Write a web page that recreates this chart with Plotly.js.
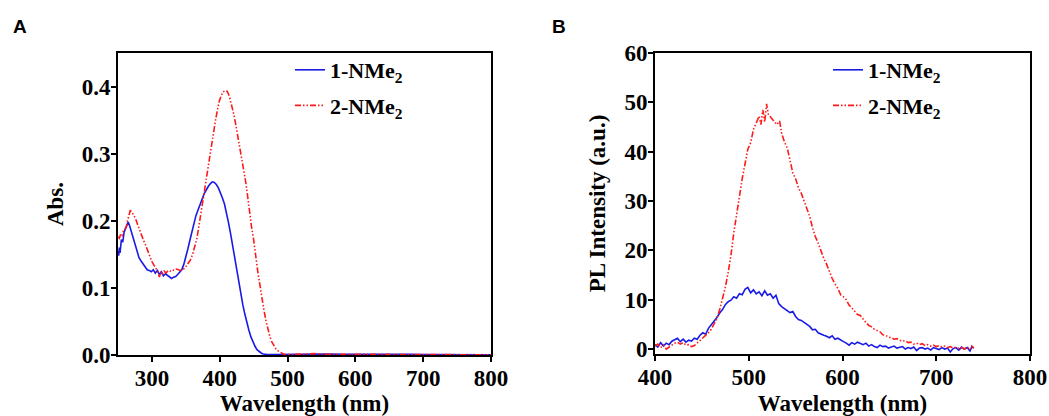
<!DOCTYPE html>
<html>
<head>
<meta charset="utf-8">
<script src="https://cdn.plot.ly/plotly-3.0.1.min.js"></script>
<style>html,body{margin:0;padding:0;background:#fff}#chart{width:1049px;height:416px}</style>
</head>
<body>
<div id="chart"></div>
<script>
// Panel A: absorption
const absX1 = [250,251,252,253,255,257,259,261,263,265,267,269,272,275,278,281,284,287,290,293,296,299,302,305,308,311,314,317,320,323,326,329,332,335,338,341,344,347,350,353,356,359,362,365,368,371,374,377,380,383,386,389,392,395,398,401,404,407,410,413,416,419,422,425,428,431,434,437,440,443,446,449,452,455,458,461,464,467,470,480,500,520,540,560,580,600,620,640,660,680,700,720,740,760,780,800];
const absY1 = [0.155,0.148,0.160,0.152,0.172,0.168,0.183,0.188,0.195,0.198,0.193,0.186,0.175,0.163,0.152,0.145,0.140,0.136,0.131,0.127,0.126,0.124,0.127,0.122,0.126,0.120,0.124,0.118,0.121,0.119,0.117,0.114,0.116,0.117,0.120,0.123,0.127,0.135,0.145,0.158,0.171,0.185,0.198,0.208,0.216,0.223,0.232,0.240,0.246,0.251,0.255,0.258,0.257,0.254,0.249,0.242,0.234,0.225,0.212,0.197,0.181,0.163,0.144,0.125,0.107,0.091,0.075,0.061,0.048,0.037,0.027,0.019,0.013,0.008,0.005,0.003,0.0015,0.0008,0.0005,0.0005,0.001,0.0008,0.0012,0.0015,0.001,0.0012,0.0009,0.0011,0.0008,0.001,0.0007,0.0006,0.0005,0.0004,0.0004,0.0003];
const absX2 = [250,252,254,256,258,260,262,264,266,268,270,273,276,279,282,285,288,291,294,297,300,303,306,309,311,313,315,318,321,324,327,330,333,336,339,342,345,348,351,354,357,360,363,366,369,372,375,378,381,384,387,390,393,396,399,402,405,408,411,414,417,420,423,426,429,432,435,438,441,444,447,450,453,456,459,462,465,468,471,474,477,480,483,486,489,492,495,500,520,540,560,580,600,620,640,660,680,700,720,740,760,780,800];
const absY2 = [0.176,0.174,0.180,0.178,0.185,0.187,0.190,0.200,0.210,0.215,0.214,0.209,0.203,0.194,0.185,0.177,0.170,0.163,0.154,0.146,0.139,0.134,0.128,0.124,0.116,0.124,0.120,0.125,0.122,0.126,0.125,0.127,0.126,0.128,0.127,0.126,0.127,0.129,0.133,0.137,0.142,0.150,0.160,0.172,0.190,0.210,0.228,0.250,0.270,0.290,0.308,0.326,0.345,0.362,0.377,0.386,0.392,0.394,0.393,0.386,0.375,0.362,0.347,0.330,0.312,0.295,0.275,0.260,0.238,0.212,0.190,0.172,0.145,0.125,0.106,0.085,0.068,0.052,0.038,0.027,0.019,0.013,0.009,0.006,0.004,0.002,0.001,0.0005,0.0015,0.002,0.0012,0.001,0.0015,0.001,0.0012,0.0008,0.001,0.0008,0.0006,0.0005,0.0004,0.0004,0.0003];

// Panel B: photoluminescence
const plX1 = [400,403,406,409,412,415,418,421,424,427,430,433,436,439,442,445,448,451,454,457,460,463,466,469,472,475,478,481,484,487,490,493,496,499,502,505,508,511,514,517,520,523,526,529,532,535,538,541,544,547,550,553,556,559,562,565,568,571,574,577,580,583,586,589,592,595,598,601,604,607,610,613,616,619,622,625,628,631,634,637,640,643,646,649,652,655,658,661,664,667,670,673,676,679,682,685,688,691,694,697,700,703,706,709,712,715,718,721,724,727,730,733,736,738,740];
const plY1 = [0.9,0.4,1.3,0.6,1.2,0.9,1.6,1.9,2.2,1.5,2.0,1.4,1.8,1.6,2.2,2.0,2.8,3.3,3.0,4.2,4.9,5.5,6.4,7.3,8.0,9.0,9.6,9.9,10.6,10.3,11.2,11.0,12.1,12.5,11.4,12.0,11.2,11.6,10.8,11.8,10.9,11.2,10.3,10.9,9.2,8.6,8.2,7.8,7.4,7.6,6.6,6.0,5.8,5.4,5.0,4.6,3.9,4.0,3.3,3.0,2.8,2.6,2.3,2.7,2.0,2.2,1.8,1.5,1.2,0.8,1.3,1.0,1.4,1.1,0.9,1.2,0.6,0.9,0.5,0.3,0.8,0.5,0.6,0.2,0.4,0.6,0.2,0.3,0.5,0.0,0.3,0.1,0.4,-0.3,0.2,0.3,0.0,0.2,-0.2,0.3,0.1,-0.1,0.3,0.0,0.2,-0.6,0.1,0.3,-0.2,0.4,0.0,0.3,-0.4,0.5,0.2];
const plX2 = [400,403,406,409,412,415,418,421,424,427,430,433,436,439,442,445,448,451,454,457,460,463,466,469,472,475,478,481,484,487,490,493,496,499,502,505,508,511,513,515,517,519,521,524,527,530,533,535,538,541,544,547,550,553,556,559,562,565,568,571,574,577,580,583,586,589,592,595,598,601,604,607,610,613,616,619,622,625,628,631,634,637,640,643,646,649,652,655,658,661,664,667,670,673,676,679,682,685,688,691,694,697,700,703,706,709,712,715,718,721,724,727,730,733,736,738,740];
const plY2 = [0.6,1.0,0.3,0.8,0.0,0.4,0.9,1.2,1.4,1.0,1.3,0.8,0.9,0.5,0.7,1.2,1.6,2.2,2.6,3.3,4.0,5.0,6.2,8.0,10.0,12.5,15.5,19.0,23.5,27.5,31.0,34.5,37.5,40.5,41.8,44.5,45.8,47.2,45.5,48.5,46.0,49.7,47.5,46.8,46.3,45.5,46.2,43.8,42.0,40.8,38.3,35.7,34.5,32.7,31.6,30.0,28.2,26.9,24.6,22.8,21.5,19.8,18.4,17.2,15.6,14.3,13.2,12.3,11.0,10.6,10.0,8.9,8.3,7.6,7.0,6.8,6.0,5.4,4.8,4.5,4.0,3.7,3.5,2.9,2.8,2.4,2.3,2.0,2.1,1.8,1.6,1.7,1.3,1.4,1.0,1.2,0.9,1.1,0.7,0.9,0.6,0.8,0.5,0.7,0.4,0.6,0.3,0.5,0.2,0.4,0.1,0.3,0.0,0.4,-0.1,0.6,0.2];

const names = ['1-NMe<sub>2</sub>', '2-NMe<sub>2</sub>'];
const xTitle = 'Wavelength (nm)';
const yTitleA = 'Abs.';
const yTitleB = 'PL Intensity (a.u.)';

const serif = 'Liberation Serif, Times New Roman, serif';
const blue = '#1a1ae6';
const red = '#ff1a1a';
const dashPat = '6px,2px,1.5px,2px,1.5px,2px';

const traces = [
  {x: absX1, y: absY1, name: names[0], type: 'scatter', mode: 'lines', xaxis: 'x', yaxis: 'y', legend: 'legend', legendgroup: 'a1',
   line: {color: blue, width: 1.6}},
  {x: absX2, y: absY2, name: names[1], type: 'scatter', mode: 'lines', xaxis: 'x', yaxis: 'y', legend: 'legend', legendgroup: 'a2',
   line: {color: red, width: 1.6, dash: dashPat}},
  {x: plX1, y: plY1, name: names[0], type: 'scatter', mode: 'lines', xaxis: 'x2', yaxis: 'y2', legend: 'legend2', legendgroup: 'b1',
   line: {color: blue, width: 1.6}},
  {x: plX2, y: plY2, name: names[1], type: 'scatter', mode: 'lines', xaxis: 'x2', yaxis: 'y2', legend: 'legend2', legendgroup: 'b2',
   line: {color: red, width: 1.6, dash: dashPat}}
];

const tickFont = {family: serif, size: 23, color: '#000', weight: 'bold'};
const titleFont = {family: serif, size: 23, color: '#000', weight: 'bold'};
const axBase = {showgrid: false, zeroline: false, showline: true, mirror: true, linecolor: '#000', linewidth: 2,
  ticks: 'outside', ticklen: 5, tickwidth: 2, tickcolor: '#000', tickfont: tickFont};

const W = 1049, H = 416;
const legendFont = {family: serif, size: 22, color: '#000', weight: 'bold'};
const layout = {
  width: W, height: H,
  margin: {l: 0, r: 0, t: 0, b: 0},
  paper_bgcolor: '#fff', plot_bgcolor: '#fff',
  xaxis: Object.assign({}, axBase, {domain: [118/W, 491/W], range: [250, 800], tickvals: [300,400,500,600,700,800], anchor: 'y',
    ticklabelstandoff: -4, title: {text: xTitle, font: titleFont, standoff: 6}}),
  yaxis: Object.assign({}, axBase, {domain: [1-355/H, 1-53/H], range: [0, 0.45], tickvals: [0,0.1,0.2,0.3,0.4], tickformat: '.1f', anchor: 'x',
    ticklabelstandoff: -4, title: {text: yTitleA, font: titleFont, standoff: 12}}),
  xaxis2: Object.assign({}, axBase, {domain: [655/W, 1030/W], range: [400, 800], tickvals: [400,500,600,700,800], anchor: 'y2',
    ticklabelstandoff: -4, title: {text: xTitle, font: titleFont, standoff: 6}}),
  yaxis2: Object.assign({}, axBase, {domain: [1-354/H, 1-53/H], range: [-1, 60], tickvals: [0,10,20,30,40,50,60], anchor: 'x2',
    ticklabelstandoff: -4, title: {text: yTitleB, font: titleFont, standoff: 12}}),
  legend: {x: 290/W, y: 1-49/H, xanchor: 'left', yanchor: 'top', bgcolor: 'rgba(0,0,0,0)', traceorder: 'grouped',
    font: legendFont, itemwidth: 30, tracegroupgap: 4},
  legend2: {x: 828/W, y: 1-49/H, xanchor: 'left', yanchor: 'top', bgcolor: 'rgba(0,0,0,0)', traceorder: 'grouped',
    font: legendFont, itemwidth: 30, tracegroupgap: 4},
  showlegend: true,
  annotations: [
    {text: 'A', xref: 'paper', yref: 'paper', x: 11/W, y: 1-26/H, xanchor: 'left', yanchor: 'middle', showarrow: false,
     font: {family: 'Liberation Sans, Arial, sans-serif', size: 19, color: '#000', weight: 'bold'}},
    {text: 'B', xref: 'paper', yref: 'paper', x: 550/W, y: 1-26/H, xanchor: 'left', yanchor: 'middle', showarrow: false,
     font: {family: 'Liberation Sans, Arial, sans-serif', size: 19, color: '#000', weight: 'bold'}}
  ]
};

Plotly.newPlot('chart', traces, layout, {displayModeBar: false, staticPlot: true});
</script>
</body>
</html>
